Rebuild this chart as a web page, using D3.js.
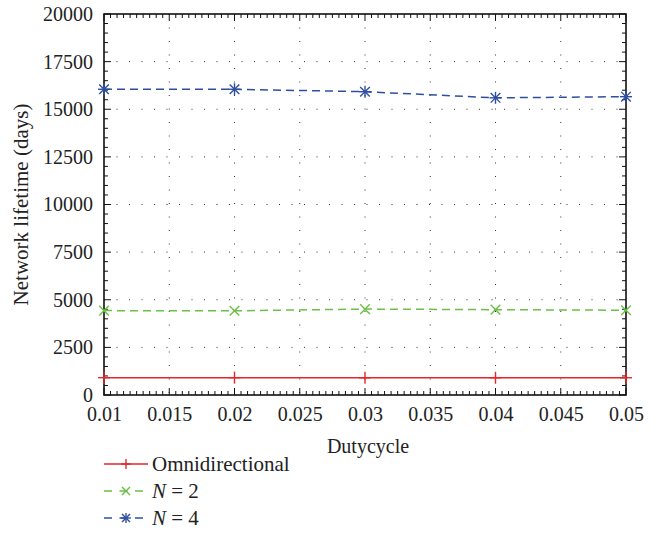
<!DOCTYPE html>
<html><head><meta charset="utf-8">
<script src="https://cdn.jsdelivr.net/npm/d3@7"></script>
<style>body{margin:0;background:#fff}svg{display:block}</style>
</head><body><svg id="c" width="667" height="556"></svg>
<script>
const dutycycle = [0.01, 0.02, 0.03, 0.04, 0.05];
const omni = [910, 910, 905, 905, 905];
const n2 = [4430, 4420, 4510, 4480, 4450];
const n4 = [16050, 16050, 15920, 15600, 15660];
const xTicks = [0.01, 0.015, 0.02, 0.025, 0.03, 0.035, 0.04, 0.045, 0.05];
const yTicks = [0, 2500, 5000, 7500, 10000, 12500, 15000, 17500, 20000];
const seriesNames = ["Omnidirectional", "N = 2", "N = 4"];

const FONT = "'Liberation Serif', 'DejaVu Serif', 'Times New Roman', Times, serif";
const svg = d3.select("#c");
const L = 104, R = 626, T = 14, B = 395;
const x = d3.scaleLinear().domain([0.01, 0.05]).range([L, R]);
const y = d3.scaleLinear().domain([0, 20000]).range([B, T]);

// grid
const g = svg.append("g");
g.selectAll(".gx").data(xTicks.slice(1, -1)).join("line")
  .attr("x1", d => x(d)).attr("x2", d => x(d)).attr("y1", T).attr("y2", B)
  .attr("stroke", "#333").attr("stroke-width", 1).attr("stroke-dasharray", "1,12.5");
g.selectAll(".gy").data(yTicks.slice(1, -1)).join("line")
  .attr("x1", L).attr("x2", R).attr("y1", d => y(d)).attr("y2", d => y(d))
  .attr("stroke", "#333").attr("stroke-width", 1).attr("stroke-dasharray", "1,11.5");

// minor ticks
const xMinor = d3.range(0, 81).map(i => 0.01 + i * 0.0005);
const yMinor = d3.range(0, 41).map(i => i * 500);
const tk = svg.append("g").attr("stroke", "#111").attr("stroke-width", 1);
xMinor.forEach((v, i) => {
  const len = (i % 10 === 0) ? 7 : 4;
  tk.append("line").attr("x1", x(v)).attr("x2", x(v)).attr("y1", B).attr("y2", B - len);
  tk.append("line").attr("x1", x(v)).attr("x2", x(v)).attr("y1", T).attr("y2", T + len);
});
yMinor.forEach((v, i) => {
  const len = (i % 5 === 0) ? 7 : 4;
  tk.append("line").attr("y1", y(v)).attr("y2", y(v)).attr("x1", L).attr("x2", L + len);
  tk.append("line").attr("y1", y(v)).attr("y2", y(v)).attr("x1", R).attr("x2", R - len);
});

// axes via d3
const xAxis = d3.axisBottom(x).tickValues(xTicks).tickFormat(d3.format("")).tickSize(0).tickPadding(12);
const yAxis = d3.axisLeft(y).tickValues(yTicks).tickFormat(d3.format("")).tickSize(0).tickPadding(11);
const ax = svg.append("g").attr("transform", `translate(0,${B})`).call(xAxis);
const ay = svg.append("g").attr("transform", `translate(${L},0)`).call(yAxis);
[ax, ay].forEach(a => {
  a.attr("font-family", null).attr("font-size", null);
  a.select(".domain").remove();
  a.selectAll("text").style("font-family", FONT).style("font-size", "20px").style("fill", "#222");
});

// frame
svg.append("rect").attr("x", L).attr("y", T).attr("width", R - L).attr("height", B - T)
  .attr("fill", "none").attr("stroke", "#111").attr("stroke-width", 1.6);

// axis labels
svg.append("text").attr("x", 368).attr("y", 453).attr("text-anchor", "middle")
  .style("font-family", FONT).style("font-size", "20px").style("fill", "#222").text("Dutycycle");
svg.append("text").attr("transform", `translate(28,${(T + B) / 2}) rotate(-90)`)
  .attr("text-anchor", "middle").style("font-family", FONT).style("font-size", "21px").style("fill", "#222")
  .text("Network lifetime (days)");

// series
const colors = ["#e5262b", "#6cbf47", "#2e4fa1"];
const dashes = [null, "8,5", "8,5"];
const data = [omni, n2, n4];
const line = d3.line().x((d, i) => x(dutycycle[i])).y(d => y(d));

function marker(sel, type, cx, cy, color, s) {
  const m = sel.append("g").attr("stroke", color).attr("stroke-width", 1.4);
  if (type === 0 || type === 2) {
    m.append("line").attr("x1", cx - s).attr("x2", cx + s).attr("y1", cy).attr("y2", cy);
    m.append("line").attr("x1", cx).attr("x2", cx).attr("y1", cy - s).attr("y2", cy + s);
  }
  if (type === 1 || type === 2) {
    const k = s * 0.8;
    m.append("line").attr("x1", cx - k).attr("x2", cx + k).attr("y1", cy - k).attr("y2", cy + k);
    m.append("line").attr("x1", cx - k).attr("x2", cx + k).attr("y1", cy + k).attr("y2", cy - k);
  }
}

data.forEach((vals, si) => {
  const p = svg.append("path").datum(vals).attr("d", line).attr("fill", "none")
    .attr("stroke", colors[si]).attr("stroke-width", 1.5);
  if (dashes[si]) p.attr("stroke-dasharray", dashes[si]);
  vals.forEach((v, i) => marker(svg, si, x(dutycycle[i]), y(v), colors[si], 6));
});

// legend
const legY = [464, 491, 518];
seriesNames.forEach((name, si) => {
  const ly = legY[si];
  const l = svg.append("line").attr("x1", 104).attr("x2", 148).attr("y1", ly).attr("y2", ly)
    .attr("stroke", colors[si]).attr("stroke-width", 1.5);
  if (dashes[si]) l.attr("stroke-dasharray", "8,7.5");
  marker(svg, si, 126, ly, colors[si], 5);
  const t = svg.append("text").attr("x", 152).attr("y", ly + 7)
    .style("font-family", FONT).style("font-size", "21px").style("fill", "#222");
  if (si === 0) t.text(name);
  else {
    t.append("tspan").style("font-style", "italic").text("N");
    t.append("tspan").text(" = " + name.split("= ")[1]);
  }
});
</script></body></html>
